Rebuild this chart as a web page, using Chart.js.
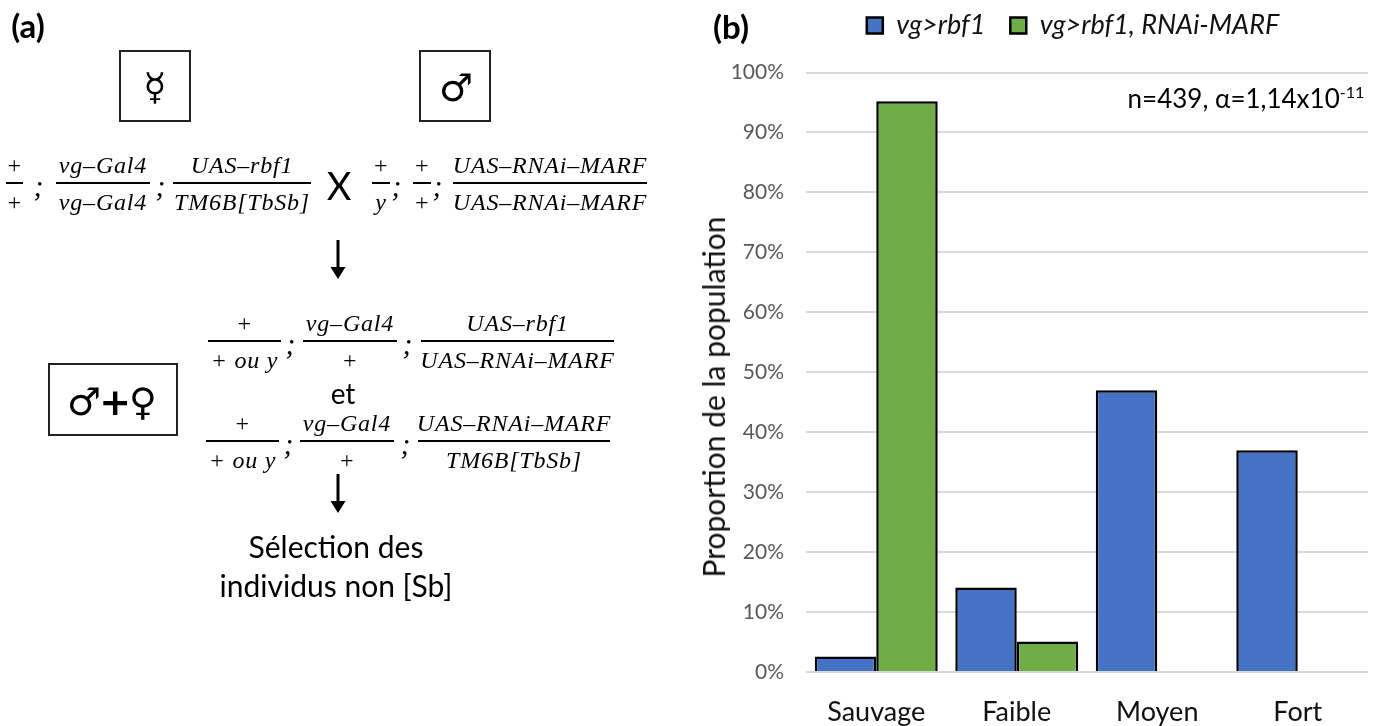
<!DOCTYPE html>
<html>
<head>
<meta charset="utf-8">
<title>vg&gt;rbf1</title>
<script src="https://cdn.jsdelivr.net/npm/chart.js@4"></script>
<style>
  html, body { margin: 0; padding: 0; background: #fff; }
  #page { position: relative; width: 1381px; height: 726px; overflow: hidden; font-family: Lato, sans-serif; color: #000; }
  #graph { position: absolute; left: 0; top: 0; }
  .t { position: absolute; white-space: nowrap; transform: translate(-50%, -50%); line-height: 1; }
  .math { font-family: "Liberation Serif", serif; font-style: italic; font-size: 24px; letter-spacing: 0.8px; }
  .rule { position: absolute; height: 2px; background: #000; }
  .box { position: absolute; box-sizing: border-box; border: 2px solid #222; }
  .arrow { position: absolute; }
  sup { font-size: 0.62em; line-height: 0; }
</style>
</head>
<body>
<div id="page">
  <canvas id="graph" width="1381" height="726"></canvas>
  <div class="t" style="left:28px;top:25px;font-size:33px;font-weight:bold">(a)</div>
  <div class="t" style="left:731px;top:26px;font-size:33px;font-weight:bold">(b)</div>
  <div class="t" style="left:1246px;top:98px;font-size:26px">n=439, α=1,14x10<sup>-11</sup></div>
  <div class="t" style="left:713px;top:397px;font-size:30px;color:#111;transform:translate(-50%, -50%) rotate(-90deg)">Proportion de la population</div>

  <div class="box" style="left:119px;top:50px;width:72px;height:72px"></div>
  <div class="box" style="left:419px;top:50px;width:72px;height:72px"></div>
  <div class="box" style="left:48px;top:363px;width:130px;height:73px"></div>
  <div class="t" style="left:155px;top:87px;font:38px 'DejaVu Sans'">☿</div>
  <div class="t" style="left:456px;top:88px;font:38px 'DejaVu Sans'">♂</div>
  <div class="t" style="left:112px;top:402px;font:38px 'DejaVu Sans'">♂<b style="margin:0 -2px">+</b>♀</div>
  <div class="t" style="left:339px;top:185px;font-size:38px">X</div>
  <div class="t" style="left:343px;top:393px;font-size:28px">et</div>
  <div class="t" style="left:336px;top:546px;font-size:30px">Sélection des</div>
  <div class="t" style="left:336px;top:585px;font-size:30px">individus non [Sb]</div>

  <svg class="arrow" style="left:328px;top:240px" width="20" height="40"><path d="M8.5 0h3v27h6L10 39 2.500 27h6z"/></svg>
  <svg class="arrow" style="left:328px;top:474px" width="20" height="40"><path d="M8.5 0h3v27h6L10 39 2.500 27h6z"/></svg>
</div>
<script>
// Donnees du graphique (b)
var categories = ['Sauvage', 'Faible', 'Moyen', 'Fort'];
var rbf1Values = [2.6, 14.1, 47, 37];
var marfValues = [95.2, 5.1, null, null];
var yTickLabels = ['0%', '10%', '20%', '30%', '40%', '50%', '60%', '70%', '80%', '90%', '100%'];

// Genotypes du panneau (a) : [numerateur, denominateur, x1, x2, y de la barre]
var genotypes = [
  ['+', '+', 6, 23, 183],
  ['vg–Gal4', 'vg–Gal4', 56, 150, 183],
  ['UAS–rbf1', 'TM6B[TbSb]', 173, 311, 183],
  ['+', 'y', 372, 390, 183],
  ['+', '+', 413, 431, 183],
  ['UAS–RNAi–MARF', 'UAS–RNAi–MARF', 453, 647, 183],
  ['+', '+ ou y', 208, 281, 341],
  ['vg–Gal4', '+', 303, 397, 341],
  ['UAS–rbf1', 'UAS–RNAi–MARF', 421, 614, 341],
  ['+', '+ ou y', 206, 279, 441],
  ['vg–Gal4', '+', 300, 394, 441],
  ['UAS–RNAi–MARF', 'TM6B[TbSb]', 418, 610, 441]
];
var semicolons = [[39, 186], [161, 186], [397, 186], [438, 186], [291, 344], [408, 344], [289, 444], [406, 444]];

var page = document.getElementById('page');

function addMath(text, x, y, size) {
  var el = document.createElement('div');
  el.className = 't math';
  el.style.left = x + 'px';
  el.style.top = y + 'px';
  if (size) el.style.fontSize = size + 'px';
  el.textContent = text;
  page.appendChild(el);
}

genotypes.forEach(function(g) {
  var mid = (g[2] + g[3]) / 2;
  var rule = document.createElement('div');
  rule.className = 'rule';
  rule.style.left = g[2] + 'px';
  rule.style.width = (g[3] - g[2]) + 'px';
  rule.style.top = (g[4] - 1) + 'px';
  page.appendChild(rule);
  addMath(g[0], mid, g[4] - 18);
  addMath(g[1], mid, g[4] + 19);
});
semicolons.forEach(function(s) { addMath(';', s[0], s[1], 30); });

// Place la legende comme dans la figure d'origine
var legendPlacer = {
  id: 'legendPlacer',
  afterLayout: function(chart) {
    var l = chart.legend;
    var w = l.right - l.left;
    l.left = 1073 - w / 2;
    l.right = 1073 + w / 2;
    var h = l.bottom - l.top;
    l.top = -13;
    l.bottom = h - 13;
  }
};

new Chart(document.getElementById('graph'), {
  type: 'bar',
  plugins: [legendPlacer],
  data: {
    labels: categories,
    datasets: [
      { label: 'vg>rbf1', data: rbf1Values, backgroundColor: '#4472C4', borderColor: '#000', borderWidth: 2.5 },
      { label: 'vg>rbf1, RNAi-MARF', data: marfValues, backgroundColor: '#70AD47', borderColor: '#000', borderWidth: 2.5 }
    ]
  },
  options: {
    responsive: false,
    animation: false,
    layout: { padding: { left: 700, right: 13, top: 10.5, bottom: 0 } },
    datasets: { bar: { categoryPercentage: 0.875, barPercentage: 1 } },
    plugins: {
      tooltip: { enabled: false },
      legend: {
        position: 'top',
        labels: {
          boxWidth: 16,
          boxHeight: 16,
          padding: 25,
          color: '#111',
          font: { family: 'Lato', size: 27, style: 'italic' }
        }
      }
    },
    scales: {
      x: {
        grid: { display: false },
        border: { display: false },
        ticks: { color: '#111', padding: 16, font: { family: 'Lato', size: 27 }, maxRotation: 0 },
        afterFit: function(scale) { scale.height = 54; }
      },
      y: {
        min: 0,
        max: 100,
        grid: { color: '#D9D9D9', lineWidth: 2, drawTicks: false },
        border: { display: false },
        ticks: {
          stepSize: 10,
          padding: 22,
          color: '#595959',
          font: { family: 'Lato', size: 21 },
          callback: function(v, i) { return yTickLabels[i]; }
        },
        afterFit: function(scale) { scale.width = 106; }
      }
    }
  }
});
</script>
</body>
</html>
